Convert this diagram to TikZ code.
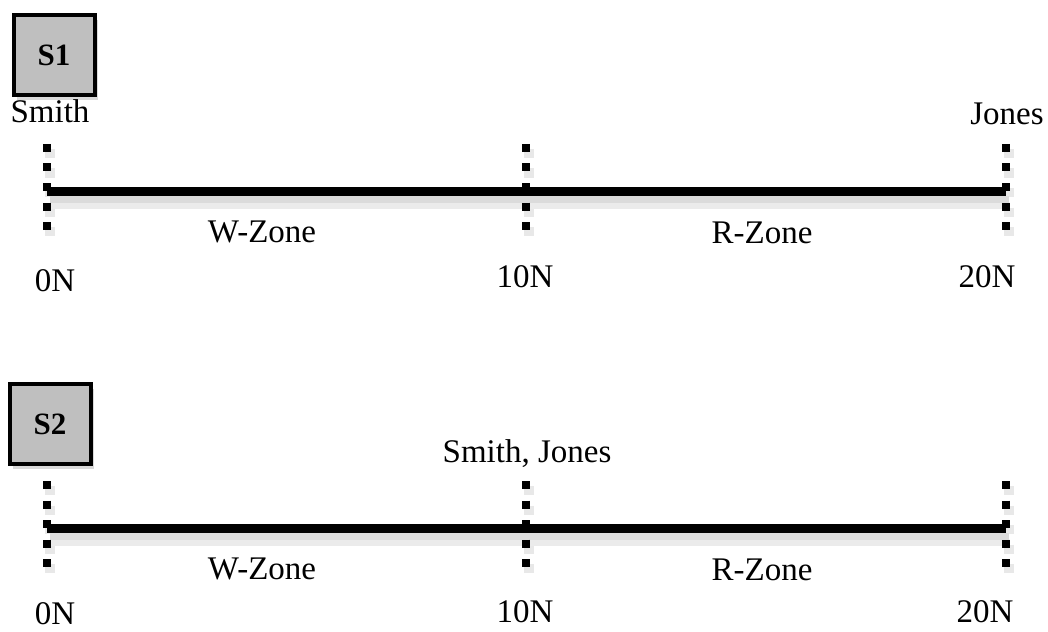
\documentclass[tikz,border=0pt]{standalone}
\usepackage{fontspec}
\setmainfont{Liberation Serif}
\usetikzlibrary{shadows,positioning,calc}
\tikzset{
  basic/.style  = {font=\fontsize{33}{38}\selectfont, inner sep=1pt},
  stage/.style  = {draw, line width=4pt, fill=black!25, rectangle,
                   minimum width=81pt, minimum height=80pt,
                   font=\fontsize{31}{36}\selectfont\bfseries,
                   drop shadow={shadow xshift=3pt, shadow yshift=-5pt, opacity=0.3}},
  axis/.style   = {line width=9pt},
  tick/.style   = {line width=8pt, dash pattern=on 8pt off 11.5pt},
  soft/.style   = {black!8, line width=14pt},
  softer/.style = {black!14, line width=7pt},
  softtick/.style = {black!9, line width=10pt, dash pattern=on 9pt off 10.5pt}
}

\begin{document}
\begin{tikzpicture}[x=1pt,y=-1pt]
\useasboundingbox (0,0) rectangle (1048,631);

% first situation
\node[stage] (s1) at (54,55) {S1};
\coordinate (a0) at (47,191);
\coordinate (a10) at (526,191);
\coordinate (a20) at (1006,191);

% shadows under the line
\foreach \value in {0,10,20}
  \draw[softtick] ($(a\value)+(3,-42)$) -- ($(a\value)+(3,46)$);
\draw[soft] ($(a0)+(3,11)$) -- ($(a20)+(3,11)$);
\draw[softer] ($(a0)+(3,8)$) -- ($(a20)+(3,8)$);

\draw[axis] (a0) -- (a20);
\foreach \value in {0,10,20}
  \draw[tick] ($(a\value)+(0,-47)$) -- ($(a\value)+(0,39)$);

\begin{scope}[every node/.style={basic}]
\node (smith1) at (50,111) {Smith};
\node (jones1) at (1007,114) {Jones};
\node (w1) at (262,232) {W-Zone};
\node (r1) at (762,233) {R-Zone};
\node (a0n) at (55,281) {0N};
\node (a10n) at (525,277) {10N};
\node (a20n) at (987,277) {20N};
\end{scope}

% second situation
\node[stage] (s2) at (50,424) {S2};
\coordinate (b0) at (47,528);
\coordinate (b10) at (526,528);
\coordinate (b20) at (1006,528);

% shadows under the line
\foreach \value in {0,10,20}
  \draw[softtick] ($(b\value)+(3,-42)$) -- ($(b\value)+(3,46)$);
\draw[soft] ($(b0)+(3,11)$) -- ($(b20)+(3,11)$);
\draw[softer] ($(b0)+(3,8)$) -- ($(b20)+(3,8)$);

\draw[axis] (b0) -- (b20);
\foreach \value in {0,10,20}
  \draw[tick] ($(b\value)+(0,-47)$) -- ($(b\value)+(0,39)$);

\begin{scope}[every node/.style={basic}]
\node (both2) at (527,454) {Smith, Jones};
\node (w2) at (262,569) {W-Zone};
\node (r2) at (762,570) {R-Zone};
\node (b0n) at (55,614) {0N};
\node (b10n) at (525,612) {10N};
\node (b20n) at (985,612) {20N};
\end{scope}

\end{tikzpicture}
\end{document}
